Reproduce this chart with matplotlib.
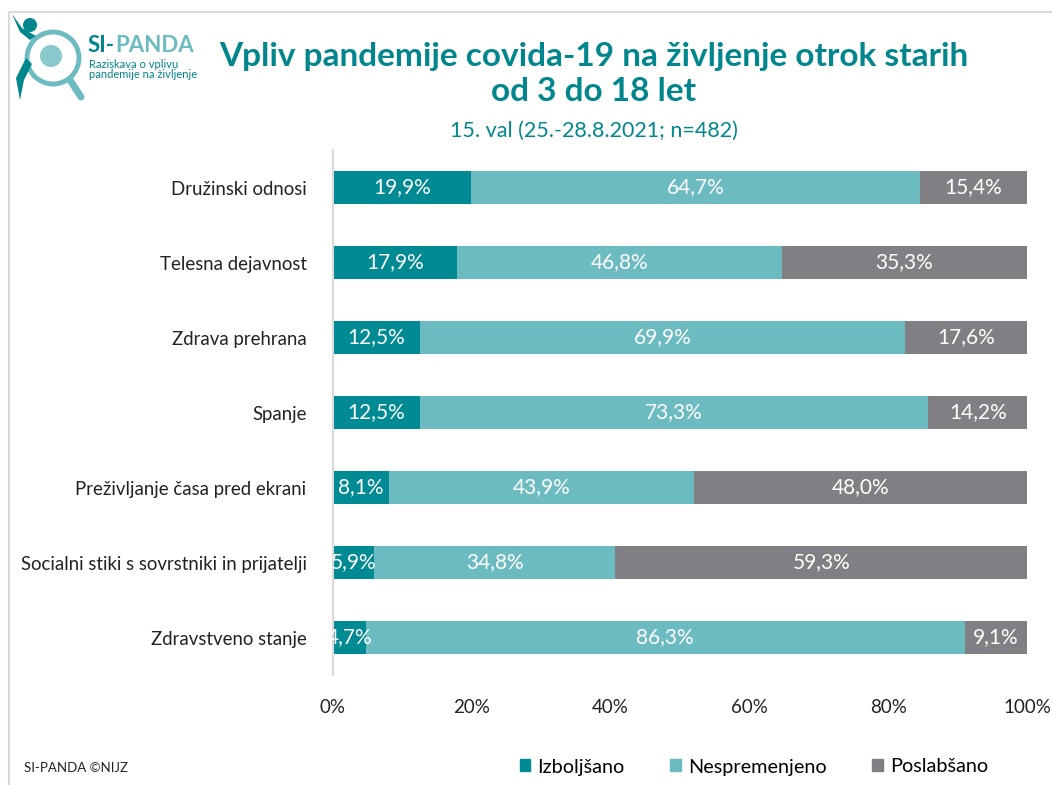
import matplotlib
matplotlib.use("Agg")
import matplotlib.pyplot as plt
from matplotlib.patches import Circle, Rectangle, Polygon
from matplotlib.lines import Line2D

plt.rcParams['font.family'] = ['Lato', 'DejaVu Sans']

categories = ["Družinski odnosi", "Telesna dejavnost", "Zdrava prehrana", "Spanje",
              "Preživljanje časa pred ekrani", "Socialni stiki s sovrstniki in prijatelji",
              "Zdravstveno stanje"]
izboljsano = [19.9, 17.9, 12.5, 12.5, 8.1, 5.9, 4.7]
nespremenjeno = [64.7, 46.8, 69.9, 73.3, 43.9, 34.8, 86.3]
poslabsano = [15.4, 35.3, 17.6, 14.2, 48.0, 59.3, 9.1]
series_names = ["Izboljšano", "Nespremenjeno", "Poslabšano"]
xticks = [0, 20, 40, 60, 80, 100]
xticklabels = ["0%", "20%", "40%", "60%", "80%", "100%"]

title = "Vpliv pandemije covida-19 na življenje otrok starih\nod 3 do 18 let"
subtitle = "15. val (25.-28.8.2021; n=482)"

colors = ["#008A93", "#6CBBC0", "#808084"]
teal = "#00868C"
light = "#6CBBC0"

W, H = 1052, 785
fig = plt.figure(figsize=(W / 100, H / 100), dpi=100)

# border
fig.add_artist(Line2D([9 / W, 9 / W], [0, 1 - 12 / H], color="#D9D9D9", lw=1.5))
fig.add_artist(Line2D([9 / W, 1], [1 - 12 / H, 1 - 12 / H], color="#D9D9D9", lw=1.5))

ax = fig.add_axes([333 / W, 1 - 675 / H, (1027 - 333) / W, (675 - 150) / H])
y = list(range(len(categories)))
left = [0] * len(categories)
for vals, c, name in zip([izboljsano, nespremenjeno, poslabsano], colors, series_names):
    bars = ax.barh(y, vals, left=left, height=0.43, color=c, label=name)
    for b, v in zip(bars, vals):
        ax.text(b.get_x() + b.get_width() / 2, b.get_y() + b.get_height() / 2,
                f"{v:.1f}".replace(".", ",") + "%", ha="center", va="center",
                color="white", fontsize=15)
    left = [l + v for l, v in zip(left, vals)]

ax.set_xlim(0, 100)
ax.set_ylim(len(categories) - 0.5, -0.5)
ax.set_yticks(y)
ax.set_yticklabels(categories, fontsize=13.4, color="#222222")
ax.set_xticks(xticks)
ax.set_xticklabels(xticklabels, fontsize=13.5, color="#222222")
ax.tick_params(axis="both", length=0)
ax.tick_params(axis="y", pad=19)
ax.tick_params(axis="x", pad=17)
for s in ["top", "right", "bottom"]:
    ax.spines[s].set_visible(False)
ax.spines["left"].set_color("#D9D9D9")
ax.spines["left"].set_linewidth(1.5)

# title
fig.text(594 / W, 1 - 74 / H, title, ha="center", va="center", fontsize=24,
         fontweight="bold", color=teal, linespacing=1.28)
fig.text(594 / W, 1 - 131 / H, subtitle, ha="center", va="center", fontsize=15.5,
         color=teal)

# legend
handles = [Rectangle((0, 0), 1, 1, color=c) for c in colors]
fig.legend(handles, series_names, loc="center", bbox_to_anchor=(754 / W, 1 - 767 / H),
           ncol=3, frameon=False, fontsize=14.3, handlelength=0.55, handleheight=0.55,
           columnspacing=2.3, handletextpad=0.35)

fig.text(24 / W, 1 - 768 / H, "SI-PANDA ©NIJZ", ha="left", va="center", fontsize=9.5,
         color="#222222")

# logo
lax = fig.add_axes([0, 1 - 110 / H, 250 / W, 110 / H])
lax.set_xlim(0, 250)
lax.set_ylim(110, 0)
lax.axis("off")
lax.add_patch(Circle((53, 58), 26, fill=False, ec=light, lw=3.5))
lax.add_patch(Circle((51, 56), 11, fc=light, ec="none", alpha=0.8))
lax.add_line(Line2D([70, 81], [80, 97], color=light, lw=5, solid_capstyle="round"))
lax.add_patch(Circle((30, 25), 7, fc=teal, ec="none"))
lax.add_patch(Polygon([(12, 14), (20, 32), (30, 40), (36, 36), (22, 28)], fc=teal, ec="none"))
lax.add_patch(Polygon([(26, 58), (16, 78), (20, 100), (24, 80), (32, 64)], fc=teal, ec="none"))
t1 = lax.text(88, 46, "SI-", fontsize=16, fontweight="bold", color=teal, va="center")
renderer = fig.canvas.get_renderer()
bb = t1.get_window_extent(renderer=renderer)
x_end = lax.transData.inverted().transform((bb.x1, bb.y0))[0]
lax.text(x_end + 0.5, 46, "PANDA", fontsize=16, fontweight="bold", color=light, va="center")
lax.text(89, 64, "Raziskava o vplivu", fontsize=8, color=teal, va="center")
lax.text(89, 75, "pandemije na življenje", fontsize=8, color=teal, va="center")

fig.savefig("out.png", dpi=100, facecolor="white")
